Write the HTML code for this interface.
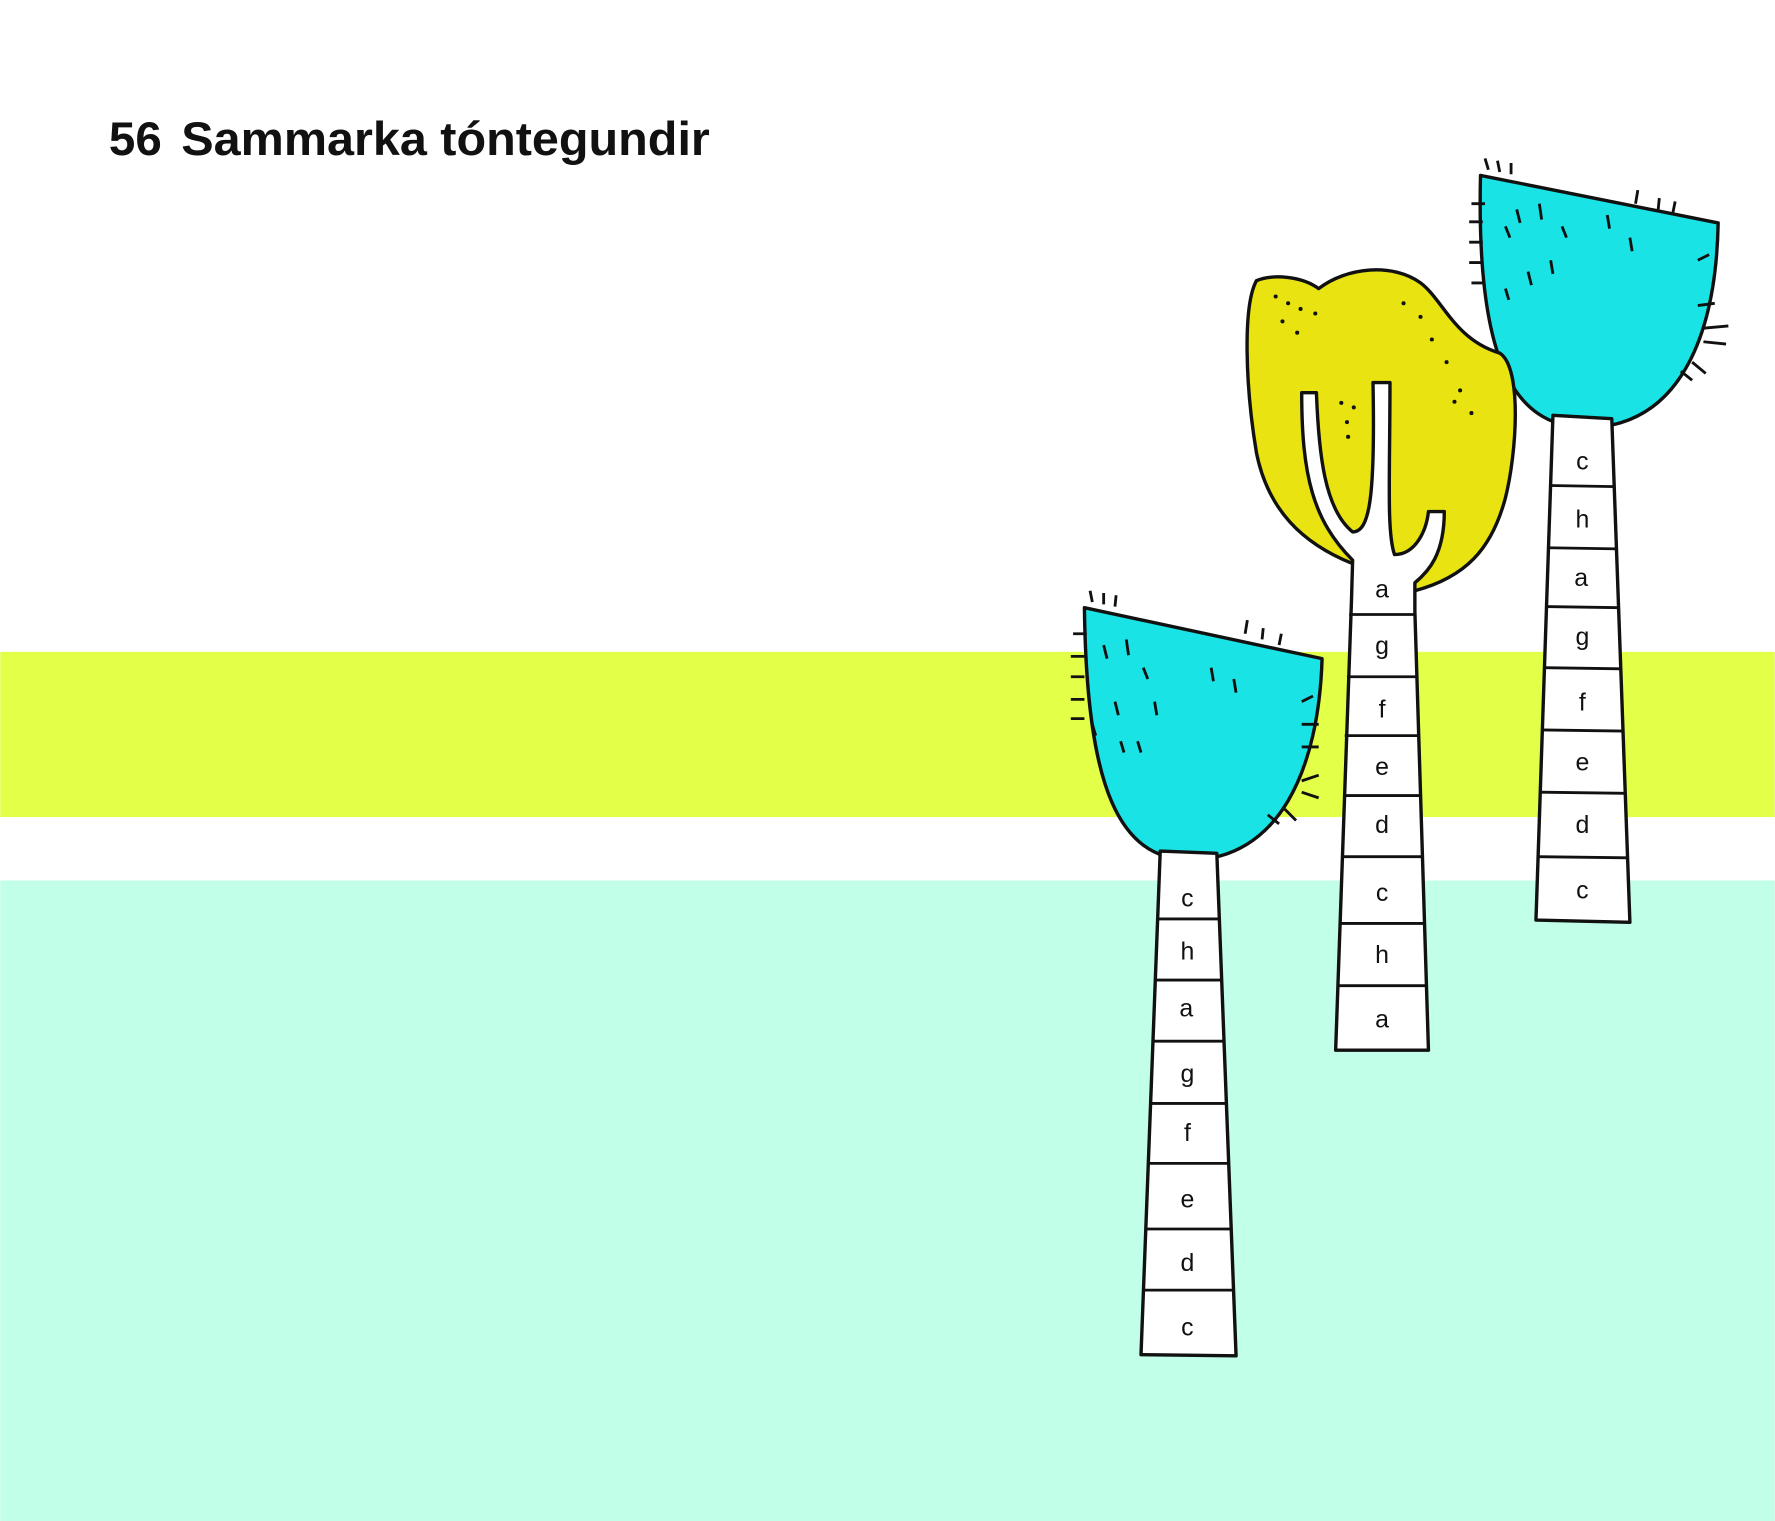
<!DOCTYPE html>
<html><head><meta charset="utf-8"><style>
html,body{margin:0;padding:0;background:#fff}
svg{display:block}
text{font-family:"Liberation Sans",sans-serif}
</style></head><body>
<svg width="1775" height="1521" viewBox="0 0 1568 1344" xmlns="http://www.w3.org/2000/svg">
<rect x="0" y="0" width="1568" height="1344" fill="#ffffff"/>
<rect x="0" y="576" width="1568" height="146" fill="#e3ff48"/>
<rect x="0" y="778" width="1568" height="566" fill="#c2ffe9"/>
<text x="96" y="137" font-size="42" font-weight="bold" fill="#111"><tspan>56</tspan><tspan x="160" textLength="467" lengthAdjust="spacingAndGlyphs">Sammarka tóntegundir</tspan></text>

<g stroke="#111" stroke-width="3" stroke-linejoin="round">
<path d="M1308,155 L1518,197 C1516,300 1482,378 1400,378 C1338,376 1304,320 1308,155Z" fill="#1ae3e6"/>
<path d="M1372,367 L1424,370 L1440,815 L1357,813 Z" fill="#fff"/>
<g stroke-width="2.5" fill="none">
<path d="M1369,429 L1427,430 M1367,484 L1429,485 M1365,536 L1431,537 M1364,590 L1432,591 M1362,645 L1434,646 M1361,700 L1436,701 M1359,757 L1438,758"/>
<path d="M1315,150 l-3,-10 M1325,152 l-2,-10 M1335,154 l0,-10 M1445,180 l2,-12 M1465,185 l1,-10 M1478,188 l2,-10 M1300,180 l12,0 M1298,196 l12,0 M1298,214 l12,0 M1298,232 l12,0 M1300,250 l12,0 M1500,270 l15,-2 M1505,290 l22,-2 M1505,302 l20,2 M1495,320 l12,10 M1485,328 l10,8 M1340,185 l3,12 M1360,180 l2,14 M1380,200 l4,10 M1350,240 l3,12 M1330,255 l3,10 M1420,190 l2,12 M1440,210 l2,12 M1330,200 l4,10 M1370,230 l2,12 M1500,230 l10,-5"/>
</g></g>
<g font-size="22" fill="#111" text-anchor="middle">
<text x="1398" y="415">c</text><text x="1398" y="466">h</text><text x="1397" y="518">a</text><text x="1398" y="570">g</text><text x="1398" y="628">f</text><text x="1398" y="681">e</text><text x="1398" y="736">d</text><text x="1398" y="794">c</text>
</g>

<g stroke="#111" stroke-width="3" stroke-linejoin="round">
<path d="M1110,248 C1125,242 1150,244 1165,255 C1190,236 1230,232 1255,250 C1275,265 1285,300 1325,312 C1345,325 1340,400 1330,440 C1318,485 1295,510 1250,522 L1195,498 C1150,480 1120,450 1110,400 C1100,340 1098,270 1110,248Z" fill="#e8e311"/>
<path d="M1150,347 L1163,347 C1165,400 1170,450 1195,470 C1210,470 1215,440 1213,338 L1228,338 C1228,420 1225,470 1232,490 C1250,490 1260,470 1262,452 L1276,452 C1276,490 1262,505 1250,515 L1250,540 L1262,928 L1180,928 L1194,530 L1195,495 C1160,460 1150,420 1150,347Z" fill="#fff"/>
<path d="M1192,543 L1250,543 M1190,598 L1252,598 M1188,650 L1254,650 M1187,703 L1255,703 M1185,757 L1257,757 M1183,816 L1259,816 M1182,871 L1260,871" stroke-width="2.5" fill="none"/>
<g fill="#111" stroke="none">
<circle cx="1127" cy="262" r="1.8"/><circle cx="1138" cy="268" r="1.8"/><circle cx="1149" cy="273" r="1.8"/><circle cx="1162" cy="277" r="1.8"/><circle cx="1133" cy="284" r="1.8"/><circle cx="1146" cy="294" r="1.8"/><circle cx="1240" cy="268" r="1.8"/><circle cx="1255" cy="280" r="1.8"/><circle cx="1265" cy="300" r="1.8"/><circle cx="1278" cy="320" r="1.8"/><circle cx="1290" cy="345" r="1.8"/><circle cx="1300" cy="365" r="1.8"/><circle cx="1185" cy="356" r="1.8"/><circle cx="1196" cy="360" r="1.8"/><circle cx="1190" cy="373" r="1.8"/><circle cx="1191" cy="386" r="1.8"/><circle cx="1285" cy="355" r="1.8"/></g>
</g>
<g font-size="22" fill="#111" text-anchor="middle">
<text x="1221" y="528">a</text><text x="1221" y="578">g</text><text x="1221" y="634">f</text><text x="1221" y="685">e</text><text x="1221" y="736">d</text><text x="1221" y="796">c</text><text x="1221" y="851">h</text><text x="1221" y="908">a</text>
</g>

<g stroke="#111" stroke-width="3" stroke-linejoin="round">
<path d="M958,537 L1168,582 C1165,680 1130,760 1050,760 C990,758 960,700 958,537Z" fill="#1ae3e6"/>
<path d="M1025,752 L1075,754 L1092,1198 L1008,1197 Z" fill="#fff"/>
<g stroke-width="2.5" fill="none">
<path d="M1022,812 L1077,812 M1020,866 L1079,866 M1018,920 L1081,920 M1016,975 L1083,975 M1014,1028 L1085,1028 M1012,1086 L1087,1086 M1010,1140 L1089,1140"/>
<path d="M965,532 l-2,-10 M975,534 l0,-10 M985,536 l1,-10 M1100,560 l2,-12 M1115,565 l1,-10 M1130,570 l2,-10 M948,560 l12,0 M946,580 l12,0 M946,598 l12,0 M946,618 l12,0 M946,635 l12,0 M1150,640 l15,0 M1150,660 l15,0 M1150,690 l15,-5 M1150,700 l15,5 M1135,715 l10,10 M1120,720 l10,8 M975,570 l3,12 M995,565 l2,14 M1010,590 l4,10 M985,620 l3,12 M965,640 l3,10 M1070,590 l2,12 M1090,600 l2,12 M1020,620 l2,12 M990,655 l3,10 M1005,655 l3,10 M1150,620 l10,-5"/>
</g></g>
<g font-size="22" fill="#111" text-anchor="middle">
<text x="1049" y="801">c</text><text x="1049" y="848">h</text><text x="1048" y="898">a</text><text x="1049" y="956">g</text><text x="1049" y="1008">f</text><text x="1049" y="1067">e</text><text x="1049" y="1123">d</text><text x="1049" y="1180">c</text>
</g>
</svg>
</body></html>
